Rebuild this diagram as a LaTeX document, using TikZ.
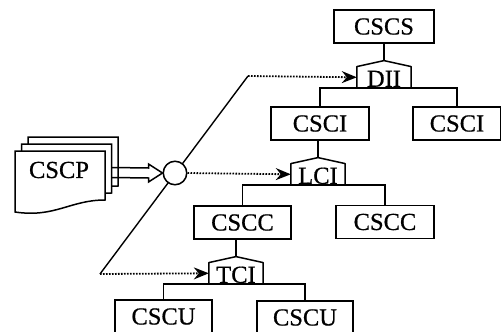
\documentclass[tikz,border=0pt]{standalone}
\usepackage{fontspec}
\setmainfont{Liberation Serif}[UprightFeatures={FakeBold=0.6}]
\usetikzlibrary{arrows.meta,calc}
\newcommand\houseoutline[1]{%
  \draw[houseline] (#1.south west) -- (#1.north west) -- ([yshift=6pt]#1.north)
    -- (#1.north east) -- (#1.south east) -- cycle;}
\begin{document}
\begin{tikzpicture}[x=1pt,y=-1pt,
  every node/.style={font=\fontsize{24.5pt}{26pt}\selectfont},
  unitbox/.style={draw, line width=1.5pt, inner sep=0pt, minimum height=33pt, fill=white},
  housenode/.style={inner sep=0pt, text height=20pt, text depth=1pt, minimum width=54pt, anchor=south},
  houseline/.style={line width=1.5pt, line join=round},
  link/.style={line width=1.4pt},
  dotarrow/.style={line width=1.8pt, dash pattern=on 1.6pt off 1.4pt,
    -{Stealth[length=15pt,width=12pt,inset=5pt]}},
  docpage/.pic={\draw[fill=white, line width=1.5pt] (0,0) -- (90,0) -- (90,49)
    .. controls (55,49) and (40,67) .. (0,61) -- cycle;}
]
\useasboundingbox (0,0) rectangle (501,332);
\clip (0,0) rectangle (501,332);
\fill[white] (0,0) rectangle (501,332);

% hierarchy boxes
\node[unitbox, minimum width=100pt] (cscs) at (384,26.5) {CSCS};
\node[housenode] (dii) at (384,88) {DII};
\node[unitbox, minimum width=98pt] (csci1) at (320,123.5) {CSCI};
\node[unitbox, minimum width=88pt] (csci2) at (457,123.5) {CSCI};
\node[housenode] (lci) at (318,185) {LCI};
\node[unitbox, minimum width=97pt] (cscc1) at (242.5,222.5) {CSCC};
\node[unitbox, minimum width=98pt] (cscc2) at (385,222) {CSCC};
\node[housenode] (tci) at (236,284) {TCI};
\node[unitbox, minimum width=97pt] (cscu1) at (163.5,316.5) {CSCU};
\node[unitbox, minimum width=96pt] (cscu2) at (305,317.5) {CSCU};

\coordinate (diiroof) at ([yshift=6pt]dii.north);
\coordinate (lciroof) at ([yshift=6pt]lci.north);
\coordinate (tciroof) at ([yshift=6pt]tci.north);

% tree links
\draw[link] (cscs.south) -- (diiroof);
\draw[link] (csci1.north) |- (dii.south) -| (csci2.north);
\draw[link] (lciroof) -- (lciroof |- csci1.south);
\draw[link] (cscc1.north) |- (lci.south) -| (cscc2.north);
\draw[link] (tciroof) -- (tciroof |- cscc1.south);
\draw[link] (cscu1.north) |- (tci.south) -| (cscu2.north);

\houseoutline{dii}
\houseoutline{lci}
\houseoutline{tci}

% slanted line with the junction circle
\coordinate (diagtop) at (248,76);
\coordinate (diagfoot) at (100,274);
\draw[link] (diagfoot) -- (diagtop);
\node[draw, circle, fill=white, minimum size=23.5pt, inner sep=0pt, line width=1.5pt] (join) at (175,173) {};

% dotted arrows into the interfaces
\draw[dotarrow] (diagtop) -- (dii.west);
\draw[dotarrow] (join.east) -- (lci.west);
\draw[dotarrow] (diagfoot) -- (tci.west);

% stacked CSCP documents
\pic at (28,137) {docpage};
\pic at (21.5,144) {docpage};
\pic at (15,151) {docpage};
\node (cscp) at (59,170) {CSCP};
\coordinate (stackedge) at (112,172.5);

% hollow arrow into the junction
\draw[line width=1.5pt, line join=miter]
  ([yshift=5pt]stackedge) -- ([xshift=-14pt,yshift=5pt]join.west)
  -- ([xshift=-14pt,yshift=9pt]join.west) -- (join.west)
  -- ([xshift=-14pt,yshift=-9pt]join.west) -- ([xshift=-14pt,yshift=-5pt]join.west)
  -- ([yshift=-5pt]stackedge);
\end{tikzpicture}
\end{document}
